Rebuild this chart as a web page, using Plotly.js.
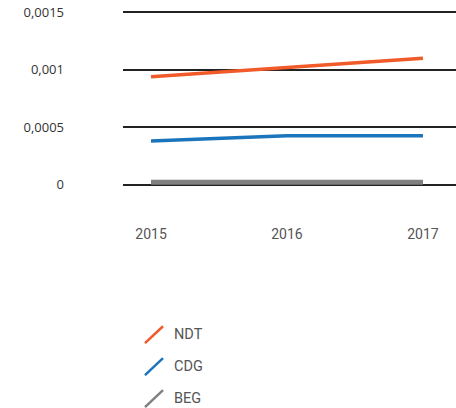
<!DOCTYPE html>
<html><head><meta charset="utf-8">
<script src="https://cdn.plot.ly/plotly-3.0.1.min.js"></script>
<style>html,body{margin:0;padding:0;background:#fff;}#c{width:456px;height:408px;}</style>
</head><body><div id="c"></div>
<script>
const years = ['2015', '2016', '2017'];
const seriesNames = ['NDT', 'CDG', 'BEG'];
const ndt = [0.00094, 0.00102, 0.0011];
const cdg = [0.00038, 0.000425, 0.000425];
const beg = [0.00002, 0.00002, 0.00002];
const colors = ['#f15a29', '#1b75bc', '#808080'];
const widths = [3.5, 3.5, 5];
const yTickVals = [0, 0.0005, 0.001, 0.0015];
const yTickText = ['0', '0,0005', '0,001', '0,0015'];

const values = [ndt, cdg, beg];
const traces = values.map((v, i) => ({
  x: years, y: v, type: 'scatter', mode: 'lines', name: seriesNames[i],
  line: {color: colors[i], width: widths[i]}, showlegend: false, hoverinfo: 'skip'
}));

// custom legend with diagonal line symbols (paper coords)
const L = 123, T = 8.55, W = 333, H = 179.4;
const px = X => (X - L) / W;
const py = Y => (T + H - Y) / H;
const shapes = [], annotations = [];
seriesNames.forEach((n, i) => {
  const yc = 335 + i * 32;
  shapes.push({type: 'line', xref: 'paper', yref: 'paper',
    x0: px(145), y0: py(yc + 8.5), x1: px(163), y1: py(yc - 8.5),
    line: {color: colors[i], width: 2.5}});
  annotations.push({xref: 'paper', yref: 'paper', x: px(172), y: py(yc),
    xanchor: 'left', yanchor: 'middle', text: n, showarrow: false,
    font: {family: 'Roboto, sans-serif', size: 14.5, color: '#555'}});
});

const layout = {
  width: 456, height: 408,
  margin: {l: L, r: 0, t: T, b: 408 - T - H},
  paper_bgcolor: '#fff', plot_bgcolor: '#fff',
  font: {family: 'Roboto, sans-serif', size: 12, color: '#333'},
  showlegend: false,
  xaxis: {type: 'category', range: [-0.206, 2.243], showgrid: false, zeroline: false,
    showline: false, ticks: '', ticklabelstandoff: 36, fixedrange: true,
    tickfont: {family: 'Roboto, sans-serif', size: 14, color: '#555'}},
  yaxis: {range: [-0.00003, 0.00153], tickvals: yTickVals, ticktext: yTickText,
    showgrid: true, gridcolor: '#222', gridwidth: 2, zeroline: true, zerolinecolor: '#222',
    zerolinewidth: 2, showline: false, ticks: '', ticklabelstandoff: 58, fixedrange: true,
    tickfont: {family: '"Open Sans", sans-serif', size: 13, color: '#333'}},
  shapes: shapes, annotations: annotations
};
Plotly.newPlot('c', traces, layout, {displayModeBar: false, staticPlot: true});
</script></body></html>
